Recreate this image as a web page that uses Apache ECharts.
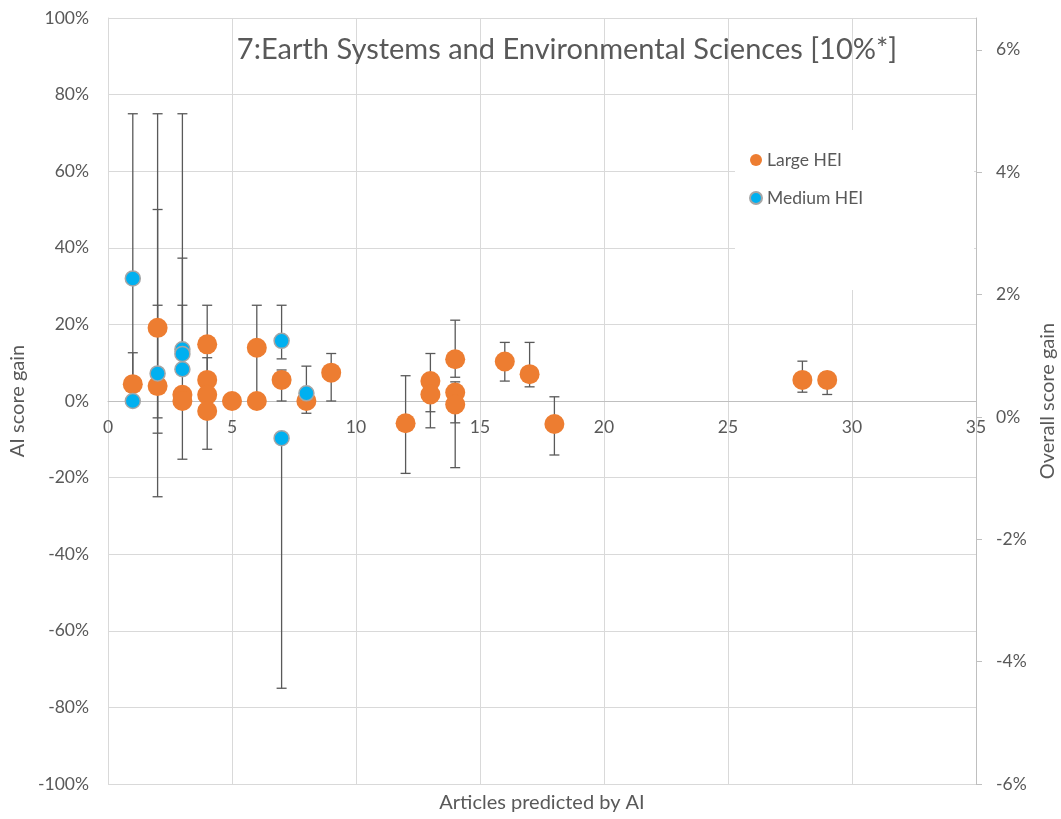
<!DOCTYPE html>
<html>
<head>
<meta charset="utf-8">
<script src="https://cdn.jsdelivr.net/npm/echarts@6/dist/echarts.min.js"></script>
<style>html,body{margin:0;padding:0;background:#fff}#c{width:1061px;height:819px}</style>
</head>
<body>
<div id="c"></div>
<script>
const titleText = '7:Earth Systems and Environmental Sciences [10%*]';
const seriesNames = ['Large HEI', 'Medium HEI'];
const leftTickValues = [-100, -80, -60, -40, -20, 0, 20, 40, 60, 80, 100];
const rightTickValues = [-6, -4, -2, 0, 2, 4, 6];
const xTickValues = [0, 5, 10, 15, 20, 25, 30, 35];

// Large HEI: articles, AI score gain (%), error top (%), error bottom (%)
const largeX    = [1,   2,    2,   3,    3,   4,    4,    4,    4,    5, 6,    6, 7,   8,    9,   12,    13,   13,   14,   14,   14,    16,   17,   18,    28,   29];
const largeY    = [4.4, 19.1, 3.9, 1.6,  0.0, 14.8, 5.5,  1.6,  -2.6, 0, 13.9, 0, 5.5, 0.0,  7.4, -5.8,  5.2,  1.7,  10.9, 2.2,  -0.9,  10.3, 7.0,  -6.0,  5.5,  5.5];
const largeHigh = [12.6,50,   25,  25,   null,25,   11.3, null, null, null,25, null,8.1,null, 12.4,6.6,  12.4, null, 21.1, 5.0,  null,  15.3, 15.3, 1.1,   10.4, 7.5];
const largeLow  = [0,   -8.4, -4.4,-15.2,null,-12.6,null, null, null, null,0,  null,0,  -3.2, 0,   -18.9, -2.8, -7.0, 6.2,  -5.7, -17.4, 5.2,  3.7,  -14.1, 2.3,  1.7];

// Medium HEI
const mediumX    = [1,  1,    2,   3,    3,    3,   7,    7,    8];
const mediumY    = [32, 0,    7.2, 13.5, 12.3, 8.3, 15.7, -9.7, 2.0];
const mediumHigh = [75, null, 75,  75,   37.3, null,25,   null, 9.1];
const mediumLow  = [0,  null, -25, null, null, null,11,   -75,  null];

const FONT = 'Lato, "Open Sans", sans-serif';
const TXT = '#595959';
const GRID_TOP = 18, GRID_BOTTOM = 35, CHART_H = 819;
// x axis sits at 0% of the left axis (middle of the -100%..100% range)
const X_AXIS_OFFSET = -(CHART_H - GRID_TOP - GRID_BOTTOM) / 2;

function pts(xs, ys) { return xs.map((x, i) => [x, ys[i]]); }
function errs(xs, ys, hs, ls) {
  return xs.map((x, i) => [x, ys[i], hs[i] == null ? '-' : hs[i], ls[i] == null ? '-' : ls[i]]);
}

function renderErr(params, api) {
  const x = api.value(0), y = api.value(1), hi = api.value(2), lo = api.value(3);
  const hasHi = !isNaN(hi), hasLo = !isNaN(lo);
  if (!hasHi && !hasLo) return null;
  const top = api.coord([x, hasHi ? hi : y]);
  const bot = api.coord([x, hasLo ? lo : y]);
  const cw = 5;
  const style = { stroke: '#595959', lineWidth: 1.3 };
  const children = [{ type: 'line', shape: { x1: top[0], y1: top[1], x2: bot[0], y2: bot[1] }, style }];
  if (hasHi) children.push({ type: 'line', shape: { x1: top[0] - cw, y1: top[1], x2: top[0] + cw, y2: top[1] }, style });
  if (hasLo) children.push({ type: 'line', shape: { x1: bot[0] - cw, y1: bot[1], x2: bot[0] + cw, y2: bot[1] }, style });
  return { type: 'group', children };
}

const chart = echarts.init(document.getElementById('c'), null, { renderer: 'canvas' });
chart.setOption({
  animation: false,
  backgroundColor: '#fff',
  textStyle: { fontFamily: FONT },
  grid: { left: 108, right: 85, top: GRID_TOP, bottom: GRID_BOTTOM, containLabel: false, outerBoundsMode: 'none' },
  graphic: [
    { type: 'rect', z: 1, shape: { x: 735, y: 130, width: 239, height: 160 }, style: { fill: '#fff' } },
    { type: 'text', z: 5, x: 567, y: 50, style: { text: titleText, fontSize: 29, fontFamily: FONT, fill: TXT, textAlign: 'center', textVerticalAlign: 'middle' } }
  ],
  legend: {
    data: seriesNames,
    orient: 'vertical',
    left: 744, top: 145,
    icon: 'circle',
    itemWidth: 12, itemHeight: 12,
    itemGap: 18,
    textStyle: { fontSize: 17.5, color: TXT, fontFamily: FONT, lineHeight: 20 }
  },
  xAxis: {
    type: 'value', min: 0, max: 35, interval: 5, position: 'bottom', offset: X_AXIS_OFFSET,
    name: 'Articles predicted by AI', nameLocation: 'middle', nameGap: 392,
    nameTextStyle: { fontSize: 20, color: TXT, fontFamily: FONT },
    axisLine: { onZero: false, lineStyle: { color: '#BFBFBF', width: 1 } },
    axisTick: { show: false },
    axisLabel: { fontSize: 17.5, color: TXT, margin: 17, fontFamily: FONT,
      customValues: xTickValues },
    splitLine: { show: true, lineStyle: { color: '#D9D9D9', width: 1 } }
  },
  yAxis: [
    {
      type: 'value', min: -100, max: 100, interval: 20, position: 'left',
      name: 'AI score gain', nameLocation: 'middle', nameGap: 80, nameRotate: 90,
      nameTextStyle: { fontSize: 20, color: TXT, fontFamily: FONT },
      axisLine: { show: true, onZero: false, lineStyle: { color: '#D9D9D9' } },
      axisTick: { show: false },
      axisLabel: { fontSize: 17.5, color: TXT, margin: 19, fontFamily: FONT,
        customValues: leftTickValues, formatter: v => Math.round(v) + '%' },
      splitLine: { show: true, lineStyle: { color: '#D9D9D9', width: 1 } }
    },
    {
      type: 'value', min: -6, max: 6.52, interval: 2, position: 'right',
      name: 'Overall score gain', nameLocation: 'middle', nameGap: 62, nameRotate: 90,
      nameTextStyle: { fontSize: 20, color: TXT, fontFamily: FONT },
      axisLine: { show: true, onZero: false, lineStyle: { color: '#BFBFBF' } },
      axisTick: { show: true, inside: false, length: 6, lineStyle: { color: '#BFBFBF' }, customValues: rightTickValues },
      axisLabel: { fontSize: 17.5, color: TXT, margin: 20, fontFamily: FONT,
        customValues: rightTickValues, formatter: v => Math.round(v) + '%' },
      splitLine: { show: false }
    }
  ],
  series: [
    { name: 'Large HEI err', type: 'custom', z: 2, renderItem: renderErr, data: errs(largeX, largeY, largeHigh, largeLow), silent: true },
    { name: 'Medium HEI err', type: 'custom', z: 2, renderItem: renderErr, data: errs(mediumX, mediumY, mediumHigh, mediumLow), silent: true },
    { name: 'Large HEI', type: 'scatter', z: 3, symbol: 'circle', symbolSize: 20, data: pts(largeX, largeY),
      itemStyle: { color: '#ED7D31', opacity: 1 } },
    { name: 'Medium HEI', type: 'scatter', z: 4, symbol: 'circle', symbolSize: 15, data: pts(mediumX, mediumY),
      itemStyle: { color: '#00B0F0', borderColor: '#A5A5A5', borderWidth: 1.5, opacity: 1 } }
  ]
});
</script>
</body>
</html>
